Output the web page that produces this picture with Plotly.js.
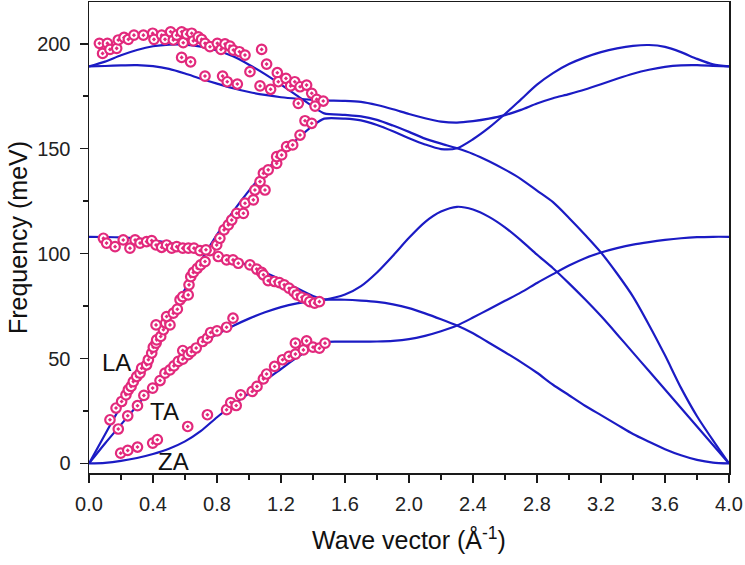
<!DOCTYPE html>
<html>
<head>
<meta charset="utf-8">
<script src="https://cdn.plot.ly/plotly-3.0.1.min.js"></script>
<style>
  html, body { margin: 0; padding: 0; background: #fff; }
  #chart { width: 745px; height: 565px; }
</style>
</head>
<body>
<div id="chart"></div>
<script>
// Wave-vector grid for the calculated dispersion (Γ–M–K–Γ path)
const q = [0.0,0.1,0.2,0.3,0.4,0.5,0.6,0.7,0.8,0.9,1.0,1.1,1.2,1.3,1.4,1.47,
           1.6,1.7,1.8,1.9,2.0,2.1,2.2,2.3,
           2.4,2.5,2.6,2.7,2.8,2.9,3.0,3.1,3.2,3.3,3.4,3.5,3.6,3.7,3.8,3.9,4.0];

// Calculated phonon branches (meV), followed continuously along the path
const bandZA = [0,0.3,1.2,2.6,4.5,7,10.5,15.5,22,28,33.5,39.5,45,50.5,55.5,57.8,
                58,58,58.1,58.4,59.2,60.8,63,65.7,
                69.5,73.5,77.5,81.5,86,90.2,94.3,97.8,100.5,102.6,104.3,105.5,106.5,107.3,107.8,108,108];
const bandZO = [108,107.9,107.7,107.2,106.3,105,103.5,101.8,99.5,97,94.2,91,87.5,83.5,79.8,78.2,
                78,77.6,77,75.8,74,71.5,68.7,65.7,
                62,57.5,53,48.3,43.2,37.5,32.5,27.5,23,18.5,14,10.3,6.8,3.9,1.7,0.4,0];
const bandTA = [0,9.5,18.5,27.5,36.3,44,51,57,61.5,65.5,69,72,74.5,76.3,77.5,78,
                80.5,84.5,91,99,107.5,115,120,122.3,
                121,117.5,112.5,106.3,99.5,93,85.8,78.2,70.2,61.6,52.8,44,35.2,26.4,17.6,8.8,0];
const bandLA = [0,13.8,27.5,41,54.5,69,83,96.5,109,120,130,139,147,154.5,161,164.3,
                164.3,163.5,161.3,158.3,155,152,149.8,150.2,
                154.5,160,166.5,173.5,180.5,186,190.3,193.5,196,197.8,199,199.4,198.5,196,192.8,190.2,189.2];
const bandLO = [189.2,191.5,194.5,197,198.8,199.6,199.6,198.6,196.8,194,190,185.5,180.5,175.3,170,166.8,
                166.1,165.4,163.7,161,158,154.8,152.4,150.2,
                147.5,144,140,135.5,130,124.5,117,109,100.5,90.5,79.5,66,51.5,36,22.5,11,0];
const bandTO = [189.2,189.4,189.7,189.8,189.3,188,185.8,183.3,181,178.8,177,175.6,174.5,173.8,173.3,173,
                172.8,172.3,170.8,168.8,166.5,164.5,162.9,162.4,
                163.1,164.3,166,168.5,171.5,174,176,178.2,180.7,183.3,185.7,187.6,189,189.7,189.8,189.5,189.2];

// Measured points (wave vector in Å⁻¹, energy in meV)
const zaQ = [0.198,0.242,0.303,0.398,0.427,0.617,0.74,0.86,0.886,0.92,0.948,1.02,1.05,1.09,1.11,1.16,1.21,1.25,1.29,1.29,1.34,1.36,1.40,1.44,1.475];
const zaE = [4.9,6.2,7.8,9.7,11.3,17.6,23.2,25.6,29,27.6,32.7,34.3,36.7,40.3,42.6,46.2,49.4,51,52.1,57.3,54.1,58.4,55.4,54.9,57.3];

const taQ = [0.183,0.242,0.303,0.343,0.398,0.444,0.475,0.506,0.531,0.558,0.586,0.586,0.62,0.64,0.67,0.71,0.74,0.76,0.80,0.86,0.90];
const taE = [16.4,22.7,27.5,32.4,35.9,39.5,43,44.6,46.5,48.6,49.7,53.8,51.8,53.3,55,58.1,59.7,62.4,63.2,64.9,69.2];

const laQ = [0.131,0.169,0.204,0.231,0.246,0.263,0.277,0.298,0.319,0.329,0.36,0.371,0.392,0.402,0.419,0.423,0.448,0.465,0.419,0.479,
             0.506,0.485,0.527,0.552,0.569,0.586,0.62,0.625,0.636,0.652,0.677,0.698,0.725,0.756,0.798,0.818,0.844,0.871,0.892,0.923,
             0.965,0.975,1.027,1.037,1.069,1.1,1.09,1.12,1.173,1.173,1.204,1.235,1.273,1.319,1.35,1.392];
const laE = [20.8,26.4,29.5,32.7,35.1,36.7,39,41.4,43,45.4,47,49.4,52.6,55.4,57.3,58.9,60.5,63.7,66,66.9,
             66,70,71.6,73.5,78,79.5,80.3,85.1,89,91,93,94.6,96.2,101.4,104.1,107.3,111.3,113.7,116,119.2,
             119.2,124,125.6,130.3,134.3,130.3,138.3,139.9,143,146.2,147,151,151.8,156.5,163.3,162.1];

const zoQ = [0.09,0.11,0.163,0.214,0.256,0.288,0.319,0.36,0.392,0.419,0.454,0.485,0.517,0.548,0.586,0.621,0.656,0.694,0.731,0.808,
             0.86,0.90,0.933,1.006,1.048,1.079,1.09,1.12,1.16,1.19,1.22,1.25,1.28,1.30,1.33,1.36,1.38,1.41,1.44];
const zoE = [107.3,105,103.3,106.5,102.6,106.5,105,105.7,106.2,104.1,103,104.1,102.6,103.3,102.6,102.6,102.6,101.4,101.8,98.6,
             97,97,95.4,94.6,92.6,91,89.9,87.1,86.7,86.2,85.1,83.5,81.9,80.3,79.2,78.3,77.1,76.4,77.1];

const opQ = [0.065,0.085,0.115,0.131,0.173,0.183,0.219,0.246,0.281,0.34,0.398,0.406,0.454,0.475,0.51,0.527,0.548,0.579,0.589,0.61,
             0.642,0.652,0.683,0.704,0.725,0.756,0.802,0.825,0.85,0.881,0.902,0.94,0.975,0.579,0.635,0.725,0.835,0.864,0.927,1.006,
             1.079,1.069,1.11,1.135,1.177,1.183,1.231,1.26,1.286,1.319,1.308,1.36,1.392,1.423,1.413,1.464];
const opE = [200.2,195.4,200.2,197.3,197.8,201.8,203,202.1,204.1,204.1,205,202.1,204.1,202.1,205.7,201.8,204.1,205.7,200.5,204.6,
             205,201.4,203.3,202.1,200.2,198.6,200.2,197.3,199.9,198.9,197,196.2,194.6,193.5,191.4,184.6,184.6,181.9,180.8,186.7,
             197.3,179.9,190.3,178.3,186.2,181.9,183.5,179.9,181.9,179.5,171.6,180.3,176.4,173.5,170.3,172.7];

// Branch labels
const branchLabels = ['LA', 'TA', 'ZA'];
const labelQ = [0.173, 0.469, 0.53];
const labelE = [48.1, 24.8, 0.9];

const lineColor = '#1b1bc4';
const dotColor = '#e2297c';
const axisColor = '#1a1a1a';
const fontFamily = 'Arial, "Liberation Sans", sans-serif';

const bands = [bandZA, bandZO, bandTA, bandLA, bandLO, bandTO];
const traces = bands.map(b => ({
  x: q, y: b, type: 'scatter', mode: 'lines',
  line: { color: lineColor, width: 2.2, shape: 'spline', smoothing: 0.7 },
  hoverinfo: 'skip', showlegend: false
}));

const groups = [[zaQ, zaE], [taQ, taE], [laQ, laE], [zoQ, zoE], [opQ, opE]];
groups.forEach(([gx, gy]) => traces.push({
  x: gx, y: gy, type: 'scatter', mode: 'markers',
  marker: { symbol: 'circle-dot', size: 9.5, color: '#ffffff',
            line: { color: dotColor, width: 2.2 } },
  showlegend: false
}));

const layout = {
  width: 745, height: 565,
  margin: { l: 89, r: 16, t: 2, b: 92 },
  paper_bgcolor: '#ffffff', plot_bgcolor: '#ffffff',
  font: { family: fontFamily, color: axisColor },
  showlegend: false,
  xaxis: {
    range: [0, 4], tick0: 0, dtick: 0.4, tickformat: '.1f',
    ticks: 'outside', ticklen: 8, tickwidth: 1.5, tickcolor: axisColor,
    minor: { dtick: 0.2, ticks: 'outside', ticklen: 5, tickwidth: 1.5, tickcolor: axisColor },
    showline: true, linecolor: axisColor, linewidth: 1.5, mirror: true,
    showgrid: false, zeroline: false,
    tickfont: { size: 20, color: '#222' },
    ticklabelstandoff: 4,
    title: { text: 'Wave vector (Å<sup>-1</sup>)', font: { size: 25, color: '#111' }, standoff: 18 },
    automargin: false
  },
  yaxis: {
    range: [-4.57, 219.9], tick0: 0, dtick: 50,
    ticks: 'outside', ticklen: 8, tickwidth: 1.5, tickcolor: axisColor,
    minor: { dtick: 25, ticks: 'outside', ticklen: 5, tickwidth: 1.5, tickcolor: axisColor },
    showline: true, linecolor: axisColor, linewidth: 1.5, mirror: true,
    showgrid: false, zeroline: false,
    tickfont: { size: 20, color: '#222' },
    ticklabelstandoff: 5,
    title: { text: 'Frequency (meV)', font: { size: 25, color: '#111' }, standoff: 2 },
    automargin: false
  },
  annotations: branchLabels.map((t, i) => ({
    x: labelQ[i], y: labelE[i], xref: 'x', yref: 'y', text: t,
    showarrow: false, font: { size: 24, color: '#111', family: fontFamily },
    xanchor: 'center', yanchor: 'middle'
  }))
};

Plotly.newPlot('chart', traces, layout, { staticPlot: true, displayModeBar: false });
</script>
</body>
</html>
